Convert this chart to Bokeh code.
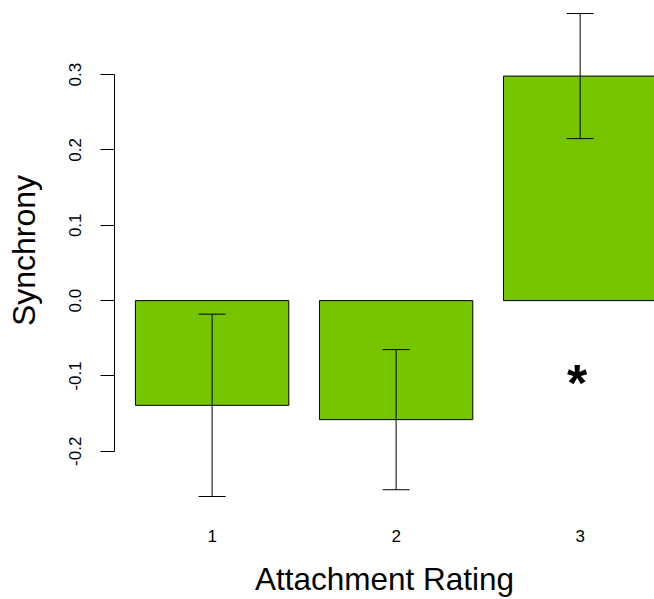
from bokeh.plotting import figure
from bokeh.models import Range1d, FixedTicker, ColumnDataSource
from bokeh.embed import file_html
from bokeh.resources import INLINE
from bokeh.core.properties import value

# ---- data ----
categories = ["1", "2", "3"]
synchrony = [-0.139, -0.158, 0.298]
std_err = [0.121, 0.093, 0.083]
significant = [False, False, True]
star_y = -0.1
y_ticks = [-0.2, -0.1, 0.0, 0.1, 0.2, 0.3]
y_tick_labels = ["-0.2", "-0.1", "0.0", "0.1", "0.2", "0.3"]

FONT = "Liberation Sans"
GREEN = "#76C400"

pos = [i + 1 for i in range(len(categories))]
bar_w = 1 / 1.2
cap = 0.0734

src = ColumnDataSource(dict(
    x=pos, top=synchrony,
    lo=[m - e for m, e in zip(synchrony, std_err)],
    hi=[m + e for m, e in zip(synchrony, std_err)],
    cl=[p - cap for p in pos], cr=[p + cap for p in pos],
))

p = figure(width=654, height=599, output_backend="svg", toolbar_location=None,
           x_range=Range1d(0.4696, 3.404), y_range=Range1d(-0.2653, 0.3983),
           min_border_left=114, min_border_right=0, min_border_top=0,
           min_border_bottom=98)
p.outline_line_color = None
p.grid.visible = False
p.background_fill_color = "white"
p.border_fill_color = "white"

p.vbar(x="x", width=bar_w, top="top", bottom=0, source=src,
       fill_color=GREEN, line_color="black", line_width=1)
p.segment(x0="x", y0="lo", x1="x", y1="hi", source=src, line_color="black", line_width=1)
p.segment(x0="cl", y0="hi", x1="cr", y1="hi", source=src, line_color="black", line_width=1)
p.segment(x0="cl", y0="lo", x1="cr", y1="lo", source=src, line_color="black", line_width=1)

sx = [pp for pp, s in zip(pos, significant) if s]
p.text(x=sx, y=[star_y] * len(sx), text=["*"] * len(sx), text_font=value(FONT),
       text_font_size="52px", text_font_style="bold", text_align="center",
       text_baseline="middle", text_color="black", y_offset=7, x_offset=-3)

# y axis
ya = p.yaxis[0]
ya.ticker = FixedTicker(ticks=y_ticks)
ya.major_label_overrides = {t: l for t, l in zip(y_ticks, y_tick_labels)}
ya.bounds = (min(y_ticks), max(y_ticks))
ya.major_label_orientation = "vertical"
ya.major_tick_out = 14
ya.major_tick_in = 0
ya.minor_tick_line_color = None
ya.axis_line_color = "black"
ya.major_tick_line_color = "black"
ya.major_label_text_font = FONT
ya.major_label_text_font_size = "17px"
ya.major_label_text_color = "black"
ya.major_label_standoff = 19
ya.axis_label = "Synchrony"
ya.axis_label_text_font = FONT
ya.axis_label_text_font_size = "32px"
ya.axis_label_text_font_style = "normal"
ya.axis_label_text_color = "black"
ya.axis_label_standoff = 25

# x axis
xa = p.xaxis[0]
xa.ticker = FixedTicker(ticks=pos)
xa.major_label_overrides = {pp: c for pp, c in zip(pos, categories)}
xa.axis_line_color = None
xa.major_tick_line_color = None
xa.minor_tick_line_color = None
xa.major_tick_out = 0
xa.major_tick_in = 0
xa.major_label_text_font = FONT
xa.major_label_text_font_size = "17px"
xa.major_label_text_color = "black"
xa.major_label_standoff = 29
xa.axis_label = "Attachment Rating"
xa.axis_label_text_font = FONT
xa.axis_label_text_font_size = "31.5px"
xa.axis_label_text_font_style = "normal"
xa.axis_label_text_color = "black"
xa.axis_label_text_line_height = 0.8
xa.axis_label_standoff = 16

open("out.html", "w").write(file_html(p, INLINE))
